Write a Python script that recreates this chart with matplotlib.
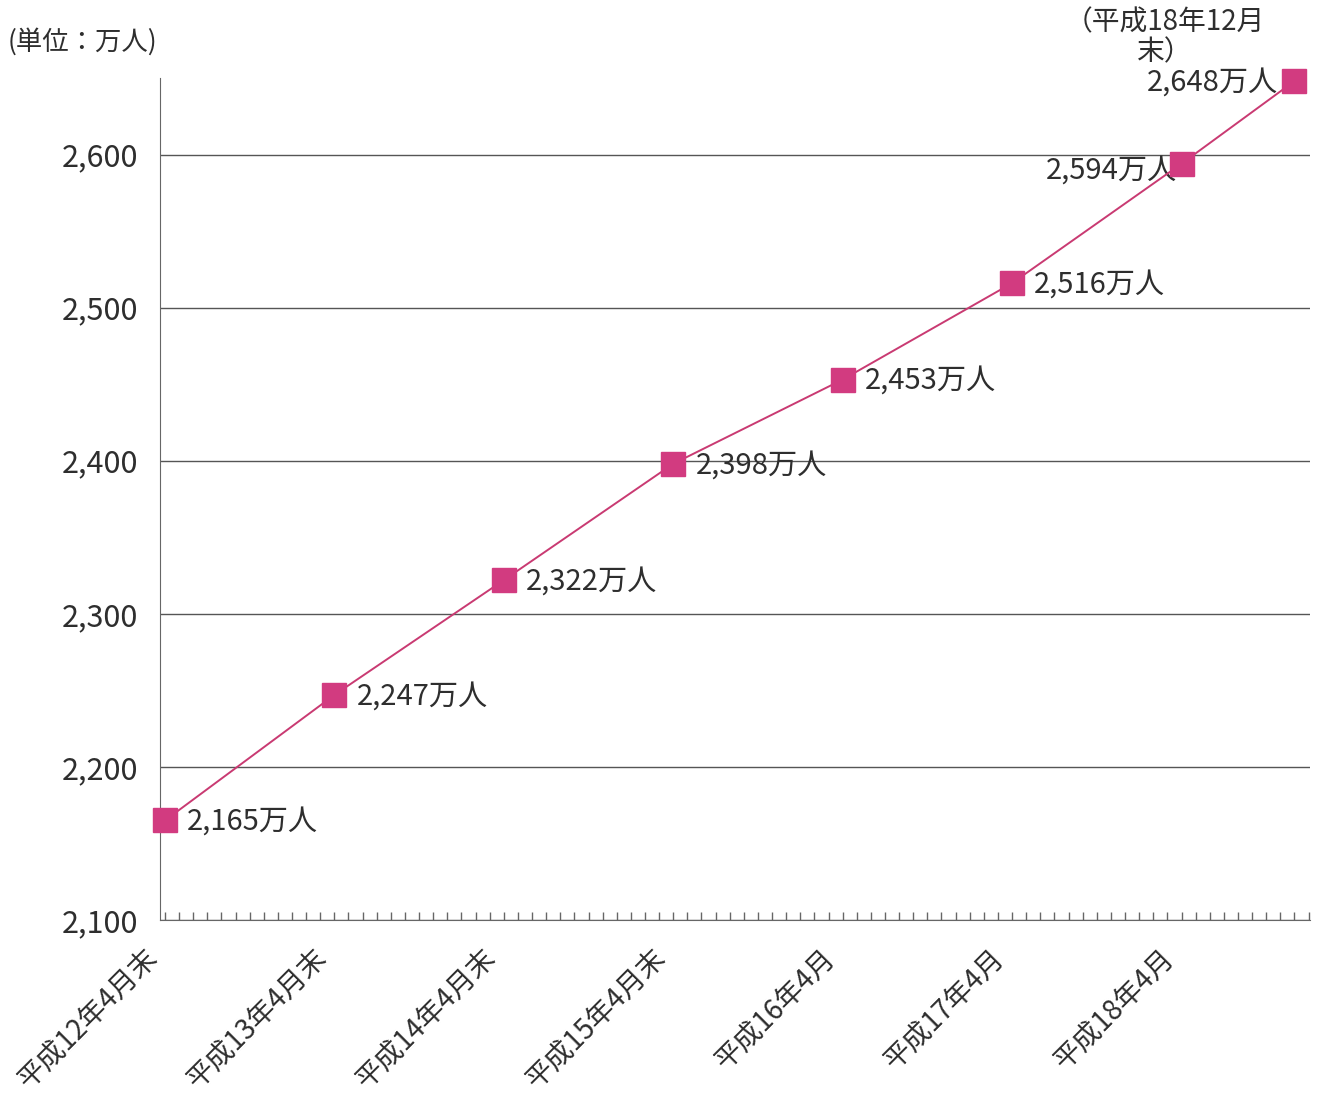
import matplotlib
matplotlib.use("Agg")
import matplotlib.pyplot as plt
from matplotlib.transforms import ScaledTranslation

plt.rcParams['font.family'] = ['Noto Sans CJK JP', 'DejaVu Sans']

# months counted from 平成12年4月末
months = [0, 12, 24, 36, 48, 60, 72, 80]
values = [2165, 2247, 2322, 2398, 2453, 2516, 2594, 2648]
point_labels = ['2,165万人', '2,247万人', '2,322万人', '2,398万人',
                '2,453万人', '2,516万人', '2,594万人', '2,648万人']
tick_months = [0, 12, 24, 36, 48, 60, 72]
tick_labels = ['平成12年4月末', '平成13年4月末', '平成14年4月末', '平成15年4月末',
               '平成16年4月', '平成17年4月', '平成18年4月']
y_ticks = [2100, 2200, 2300, 2400, 2500, 2600]

line_color = '#c93a72'
marker_color = '#d23b80'
text_color = '#2e2e2e'

fig = plt.figure(figsize=(13.17, 10.93), dpi=100)
ax = fig.add_axes([160 / 1317, 173 / 1093, 1150 / 1317, 842 / 1093])

ax.plot(months, values, color=line_color, lw=1.4, zorder=3, clip_on=False)
ax.plot(months, values, 's', color=marker_color, markersize=17, zorder=4,
        clip_on=False)

# data labels: right of marker except the last two
for i, (m, v, lab) in enumerate(zip(months, values, point_labels)):
    if i == 6:
        ax.annotate(lab, (m, v), xytext=(-3, -5), textcoords='offset points',
                    ha='right', va='center', fontsize=21, color=text_color, zorder=2)
    elif i == 7:
        ax.annotate(lab, (m, v), xytext=(-12, -1), textcoords='offset points',
                    ha='right', va='center', fontsize=21, color=text_color, zorder=2)
    else:
        ax.annotate(lab, (m, v), xytext=(16, -1), textcoords='offset points',
                    ha='left', va='center', fontsize=21, color=text_color, zorder=5)

ax.set_xlim(-0.35, 81.1)
ax.set_ylim(2100, 2650)

ax.set_yticks(y_ticks)
ax.set_yticklabels([f'{t:,}' for t in y_ticks], fontsize=22, color=text_color)
ax.tick_params(axis='y', length=0, pad=16)
ax.grid(axis='y', color='#555555', lw=1)

ax.set_xticks(tick_months)
ax.set_xticklabels(tick_labels, rotation=45, ha='right', va='top',
                   rotation_mode='anchor', fontsize=20, color=text_color)
ax.set_xticks(range(0, 82), minor=True)
ax.tick_params(axis='x', which='both', direction='in', length=6,
               color='#666666', width=1, pad=17)
shift = ScaledTranslation(-22 / 100, 0, fig.dpi_scale_trans)
for lbl in ax.get_xticklabels():
    lbl.set_transform(lbl.get_transform() + shift)

for s in ['top', 'right']:
    ax.spines[s].set_visible(False)
ax.spines['left'].set_color('#666666')
ax.spines['bottom'].set_color('#666666')

fig.text(8 / 1317, 1 - 42 / 1093, '(単位：万人)', fontsize=19,
         color=text_color, va='center', ha='left')
fig.text(1165 / 1317, 1 - 37 / 1093, '（平成18年12月\n末）', fontsize=20,
         color=text_color, va='center', ha='center', linespacing=1.0)

fig.savefig('out.png', dpi=100, facecolor='white')
